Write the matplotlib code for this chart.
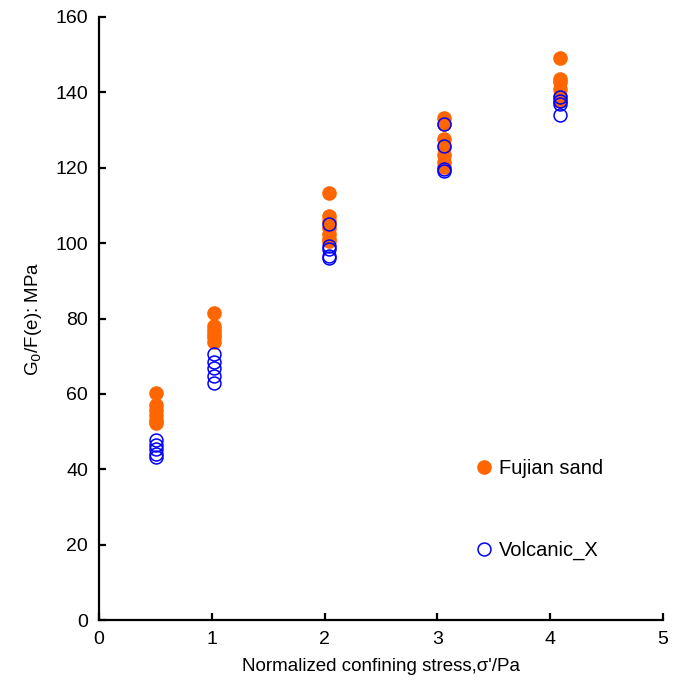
import matplotlib
matplotlib.use("Agg")
import matplotlib.pyplot as plt

plt.rcParams['font.family'] = ['Liberation Sans', 'DejaVu Sans']

# Normalized confining stress levels (x) for each test group
fujian_x = [0.505] * 6 + [1.015] * 6 + [2.035] * 7 + [3.06] * 7 + [4.085] * 6
fujian_y = [60.3, 57.0, 55.7, 54.4, 53.0, 52.2,
            81.5, 78.0, 77.0, 76.0, 75.0, 73.7,
            113.4, 107.2, 106.0, 104.0, 102.3, 101.0, 100.6,
            133.1, 131.5, 127.5, 125.5, 123.5, 121.5, 120.2,
            149.0, 143.5, 142.8, 141.0, 139.0, 137.8]

volcanic_x = [0.505] * 5 + [1.015] * 5 + [2.035] * 5 + [3.06] * 4 + [4.085] * 4
volcanic_y = [47.8, 46.5, 45.3, 44.0, 43.3,
              70.6, 68.5, 67.0, 64.8, 62.9,
              105.2, 99.2, 98.5, 96.6, 96.1,
              131.6, 125.8, 119.8, 119.1,
              138.8, 137.8, 137.0, 134.1]

x_ticks = [0, 1, 2, 3, 4, 5]
y_ticks = [0, 20, 40, 60, 80, 100, 120, 140, 160]

fig = plt.figure(figsize=(6.9, 6.8), dpi=100)
ax = fig.add_axes([0.1435, 0.0882, 0.8175, 0.8868])

ax.plot(fujian_x, fujian_y, linestyle='none', marker='o', markersize=9.5,
        color='#ff6600', markeredgecolor='#ff6600', label='Fujian sand')
ax.plot(volcanic_x, volcanic_y, linestyle='none', marker='o', markersize=9.3,
        markerfacecolor='none', markeredgecolor='#0000ff', markeredgewidth=1.1,
        label='Volcanic_X')

ax.set_xlim(0, 5)
ax.set_ylim(0, 160)
ax.set_xticks(x_ticks)
ax.set_yticks(y_ticks)
ax.spines['top'].set_visible(False)
ax.spines['right'].set_visible(False)
for s in ('left', 'bottom'):
    ax.spines[s].set_linewidth(1.6)
ax.tick_params(direction='in', length=5, width=1.6, labelsize=14, pad=8)

ax.set_xlabel("Normalized confining stress,σ'/Pa", fontsize=13.5, labelpad=7)
ax.set_ylabel("G$_0$/F(e): MPa", fontsize=13.5, labelpad=8)

leg = ax.legend(loc='upper left', bbox_to_anchor=(0.647, 0.29), frameon=False,
                fontsize=14.5, handlelength=0.6, handletextpad=0.45,
                labelspacing=3.1, borderpad=0.2)

fig.savefig('out.png', dpi=100)
